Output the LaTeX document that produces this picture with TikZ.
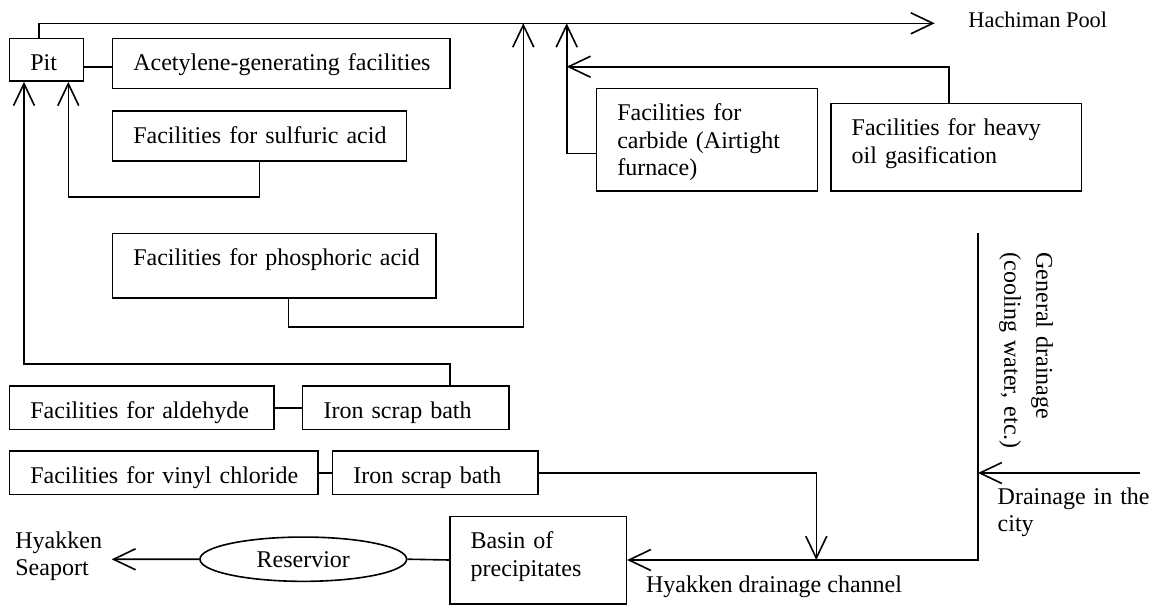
\documentclass[tikz,border=0pt]{standalone}
\usepackage{fontspec}
\setmainfont{Liberation Serif}
\usetikzlibrary{arrows.meta,shapes.geometric}
\newcommand\padtext[1]{\leftskip=10.5pt\relax #1\par}
\begin{document}
\begin{tikzpicture}[x=0.5pt,y=-0.5pt,
  every node/.style={font=\fontsize{12pt}{13.6pt}\selectfont},
  ln/.style={line width=0.8pt},
  arr/.style={ln,-{Straight Barb[length=11pt,width=10.5pt]}},
  box/.style={draw,ln,inner xsep=0pt,inner ysep=0pt,align=left,text height=16.3pt},
  lbl/.style={inner sep=0pt}]
\useasboundingbox (0,0) rectangle (1152,605);

% boxes
\node[box,text width=37pt,text depth=5.05pt] (pit) at (46.3,59.7) {\padtext{Pit}};
\node[box,text width=168.7pt,text depth=8.7pt] (acet) at (281,63.3) {\padtext{Acetylene-generating facilities}};
\node[box,text width=147pt,text depth=8.7pt] (sulf) at (259.3,135.7) {\padtext{Facilities for sulfuric acid}};
\node[box,text width=161.7pt,text depth=15.9pt] (phos) at (274,265.5) {\padtext{Facilities for phosphoric acid}};
\node[box,text width=110.5pt,text depth=34.9pt] (carb) at (706.8,139.5) {\padtext{Facilities for\\carbide (Airtight\\furnace)}};
\node[box,text width=125.3pt,text depth=27.4pt] (heavy) at (956,147) {\padtext{Facilities for heavy\\oil gasification}};
\node[box,text width=132.35pt,text depth=5.35pt] (ald) at (141.7,407.7) {\padtext{Facilities for aldehyde}};
\node[box,text width=103.15pt,text depth=5.35pt] (iron1) at (405.8,407.7) {\padtext{Iron scrap bath}};
\node[box,text width=154.2pt,text depth=5.55pt] (vinyl) at (163.5,472.8) {\padtext{Facilities for vinyl chloride}};
\node[box,text width=102.85pt,text depth=5.55pt] (iron2) at (435.2,472.8) {\padtext{Iron scrap bath}};
\node[box,text width=88.3pt,text depth=27.4pt] (basin) at (538,560) {\padtext{Basin of\\precipitates}};
\node[draw,ln,ellipse,inner sep=0pt,minimum width=103.35pt,minimum height=22.15pt] (res) at (303.3,559.2) {Reservior};

% labels
\node[lbl,anchor=base west,font=\fontsize{11.2pt}{13pt}\selectfont] (hach) at (968,27.3) {Hachiman Pool};
\node[lbl,anchor=base west,text width=46pt,align=left] (sea) at (15,548.7) {Hyakken\\Seaport};
\node[lbl,anchor=base west] (chan) at (645.7,592) {Hyakken drainage channel};
\node[lbl,anchor=base west,text width=78pt,align=left] (city) at (997.3,504.5) {Drainage in the\\city};
\node[lbl,rotate=-90,anchor=base west,text width=100pt,align=left,font=\fontsize{12pt}{16pt}\selectfont] (gen) at (1036.3,252) {General drainage\\(cooling water, etc.)};

% free ends
\coordinate (hachtip) at (934.7,23.3);
\coordinate (junc) at (816.3,560);
\coordinate (gdtop) at (978,233.3);
\coordinate (cityin) at (1139.7,473);
\coordinate (seatip) at (111.7,559.3);

% connectors
\draw[ln] (pit.east |- 0,66.7) -- (acet.west |- 0,66.7);
\draw[arr] (pit.north -| 39,0) |- (hachtip);
\draw[arr] (sulf.south) |- (68.3,196.7) -- (pit.south -| 68.3,0);
\draw[arr] (iron1.north -| 449.7,0) |- (24,363.7) -- (pit.south -| 24,0);
\draw[arr] (phos.south -| 288.3,0) |- (523.3,327) -- (hachtip -| 523.3,0);
\draw[arr] (carb.west |- 0,153.3) -| (hachtip -| 566.7,0);
\draw[arr] (heavy.north -| 948.7,0) |- (566.7,66.7);
\draw[ln] (ald.east) -- (iron1.west);
\draw[ln] (vinyl.east) -- (iron2.west);
\draw[arr] (iron2.east) -| (junc);
\draw[arr] (gdtop) |- (basin.east);
\draw[arr] (cityin) -- (cityin -| gdtop);
\draw[ln] (basin.west) -- (res.east);
\draw[arr] (res.west) -- (seatip);
\end{tikzpicture}
\end{document}
